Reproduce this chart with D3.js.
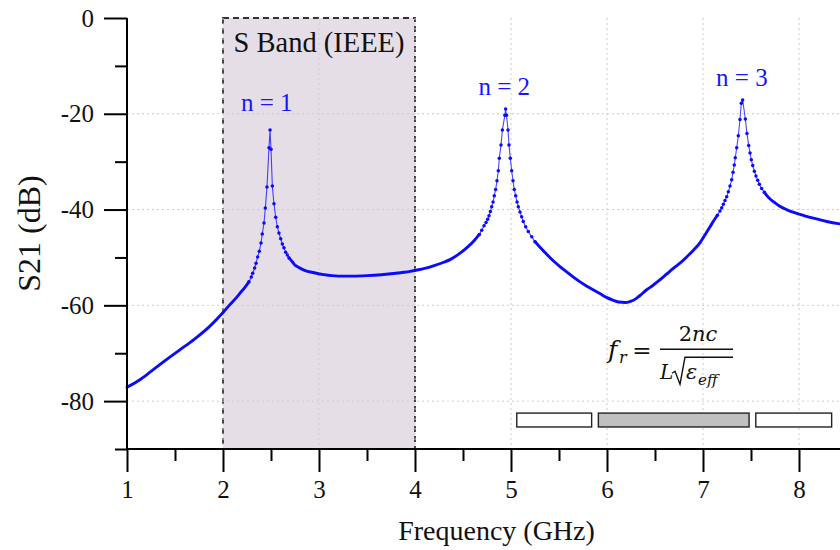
<!DOCTYPE html>
<html><head><meta charset="utf-8">
<script src="https://cdn.jsdelivr.net/npm/d3@7"></script>
<style>
body{margin:0;background:#fff}
svg{display:block;font-family:"Liberation Serif","Times New Roman",serif}
</style>
</head><body>
<svg id="chart" width="840" height="550"></svg>
<script>
// ---------- data ----------
const freq = [1.00,1.13,1.25,1.40,1.55,1.70,1.85,2.00,2.07,2.13,2.18,2.23,2.27,
 2.295,2.309,2.330,2.344,2.361,2.378,2.396,2.409,2.427,2.441,2.458,2.479,2.490,2.500,2.514,2.531,2.549,2.566,2.583,2.601,2.618,2.635,2.653,2.670,2.688,2.705,2.722,2.750,2.781,
 2.85,2.95,3.05,3.20,3.35,3.50,3.65,3.80,3.95,4.10,4.20,4.30,4.37,4.47,4.55,4.62,4.67,
 4.695,4.719,4.740,4.757,4.771,4.785,4.799,4.813,4.826,4.840,4.854,4.868,4.878,4.896,4.910,4.936,4.944,4.953,4.969,4.979,4.993,5.007,5.021,5.034,5.049,5.063,5.076,5.094,5.111,5.128,5.153,5.180,5.216,5.250,5.295,
 5.37,5.44,5.51,5.58,5.65,5.72,5.79,5.86,5.93,6.00,6.06,6.12,6.19,6.24,6.28,6.34,6.41,6.48,6.55,6.62,6.69,6.76,6.83,6.90,6.97,7.02,7.07,7.11,7.15,
 7.177,7.195,7.212,7.229,7.247,7.264,7.281,7.299,7.313,7.326,7.336,7.351,7.368,7.385,7.399,7.413,7.441,7.458,7.476,7.490,7.503,7.518,7.535,7.552,7.570,7.587,7.611,7.639,7.670,7.705,7.750,
 7.80,7.87,8.01,8.15,8.29,8.43,8.50];
const s21 = [-77.1,-75.6,-73.8,-71.5,-69.3,-67.1,-64.6,-61.5,-59.9,-58.6,-57.4,-56.2,-55.1,
 -54.1,-53.3,-52.2,-51.2,-49.9,-48.7,-47.0,-45.1,-42.8,-39.7,-35.3,-27.1,-23.4,-27.4,-35.1,-38.8,-41.6,-43.6,-44.9,-46.1,-47.2,-48.0,-48.9,-49.5,-50.1,-50.5,-50.9,-51.6,-52.0,
 -52.7,-53.2,-53.6,-53.9,-53.9,-53.8,-53.6,-53.3,-52.9,-52.3,-51.7,-51.0,-50.4,-49.1,-47.8,-46.4,-45.2,
 -44.3,-43.4,-42.7,-42.0,-41.3,-40.4,-39.4,-38.4,-37.1,-35.8,-34.0,-31.9,-29.3,-26.5,-23.4,-20.3,-19.0,-20.3,-23.4,-26.5,-29.3,-31.9,-34.0,-35.8,-37.1,-38.4,-39.4,-40.5,-41.5,-42.5,-43.6,-44.6,-45.7,-46.7,-47.7,
 -49.3,-50.7,-51.9,-53.0,-54.1,-55.1,-56.0,-56.8,-57.6,-58.4,-58.9,-59.3,-59.4,-59.2,-58.9,-58.0,-56.8,-55.8,-54.7,-53.5,-52.3,-51.2,-49.9,-48.5,-46.9,-45.3,-43.7,-42.4,-41.2,
 -40.3,-39.6,-38.9,-38.1,-37.3,-36.3,-35.1,-33.8,-32.2,-30.7,-29.2,-27.1,-24.6,-21.2,-17.8,-17.1,-21.1,-24.1,-26.6,-28.2,-29.6,-30.8,-32.0,-33.0,-33.9,-34.7,-35.6,-36.4,-37.2,-37.9,-38.6,
 -39.3,-40.0,-41.0,-41.8,-42.5,-43.0,-43.2];

const xTicks = [1,2,3,4,5,6,7,8];
const xMinorTicks = [1.5,2.5,3.5,4.5,5.5,6.5,7.5,8.5];
const yTicks = [0,-20,-40,-60,-80];
const yMinorTicks = [-10,-30,-50,-70,-90];
const yGrid = [-20,-40,-60,-80];
const xGrid = [2,3,4,5,6,7,8];

const xTitle = "Frequency (GHz)";
const yTitle = "S21 (dB)";

const bandName = "S Band (IEEE)";
const bandRange = [2, 4];

const peakLabels = ["n = 1", "n = 2", "n = 3"];
const peakLabelFreq = [2.455, 4.93, 7.405];
const peakLabelDb = [-19.5, -16.1, -14.2];

const barStarts = [5.06, 5.91, 7.55];
const barEnds   = [5.84, 7.48, 8.34];
const barFills  = ["#ffffff", "#c0c0c0", "#ffffff"];
const barDbRange = [-82.5, -85.4];

// ---------- scales ----------
const svg = d3.select("#chart");
const serif = "'Liberation Serif','Times New Roman',serif";
const x = d3.scaleLinear().domain([1, 8.5]).range([127, 847]);
const y = d3.scaleLinear().domain([-90, 0]).range([449, 18]);

// S band rectangle
svg.append("rect")
  .attr("x", x(bandRange[0])).attr("y", y(0))
  .attr("width", x(bandRange[1]) - x(bandRange[0]))
  .attr("height", y(-90) - y(0))
  .attr("fill", "#e6dee7")
  .attr("stroke", "#333").attr("stroke-width", 1.8)
  .attr("stroke-dasharray", "6,4");

// grid
const grid = svg.append("g").attr("stroke", "#cdcdcd").attr("stroke-width", 1).attr("stroke-dasharray", "2,3");
grid.selectAll("line.h").data(yGrid).join("line").attr("class","h")
  .attr("x1", x(1)).attr("x2", 840).attr("y1", d => y(d)).attr("y2", d => y(d));
grid.selectAll("line.v").data(xGrid).join("line").attr("class","v")
  .attr("x1", d => x(d)).attr("x2", d => x(d)).attr("y1", y(0)).attr("y2", y(-90));

svg.append("text").attr("x", x(3)).attr("y", y(0) + 34).attr("font-family", serif)
  .attr("text-anchor", "middle").attr("font-size", 28.5).attr("fill", "#111").text(bandName);

// ---------- curve ----------
const pts = freq.map((f, i) => [x(f), y(s21[i])]);
const steep = [];
for (let i = 0; i < pts.length - 1; i++) {
  const dx = pts[i+1][0] - pts[i][0], dy = pts[i+1][1] - pts[i][1];
  steep.push(Math.abs(dy / dx) > 1.3 && dx < 3.5);
}
const blue = "#0a0aff";
svg.append("path").attr("d", d3.line()(pts))
  .attr("fill", "none").attr("stroke", blue).attr("stroke-width", 1.1).attr("stroke-opacity", 0.75);
let runs = [], cur = [];
for (let i = 0; i < steep.length; i++) {
  if (!steep[i]) { if (cur.length === 0) cur.push(pts[i]); cur.push(pts[i+1]); }
  else if (cur.length) { runs.push(cur); cur = []; }
}
if (cur.length) runs.push(cur);
const thick = d3.line().curve(d3.curveMonotoneX);
svg.selectAll("path.run").data(runs).join("path").attr("class","run")
  .attr("d", thick).attr("fill", "none").attr("stroke", blue)
  .attr("stroke-width", 2.9).attr("stroke-linecap", "round").attr("stroke-linejoin","round");
const markIdx = pts.map((p, i) => i).filter(i => (i > 0 && steep[i-1]) || (i < steep.length && steep[i]));
svg.selectAll("circle.m").data(markIdx).join("circle").attr("class","m")
  .attr("cx", i => pts[i][0]).attr("cy", i => pts[i][1]).attr("r", 1.75).attr("fill", blue);

// peak labels
svg.selectAll("text.pk").data(peakLabels).join("text").attr("class","pk")
  .attr("x", (d,i) => x(peakLabelFreq[i])).attr("y", (d,i) => y(peakLabelDb[i]))
  .attr("font-family", serif)
  .attr("text-anchor", "middle").attr("font-size", 25).attr("fill", "#1515ff").text(d => d);

// ---------- resonator bars ----------
svg.selectAll("rect.bar").data(barStarts).join("rect").attr("class","bar")
  .attr("x", (d,i) => x(d)).attr("y", y(barDbRange[0]))
  .attr("width", (d,i) => x(barEnds[i]) - x(d))
  .attr("height", y(barDbRange[1]) - y(barDbRange[0]))
  .attr("fill", (d,i) => barFills[i]).attr("stroke", "#222").attr("stroke-width", 1.4);

// ---------- formula ----------
const fx = x(6.0), fy = y(-70);
const fm = svg.append("g").attr("font-family", "'DejaVu Serif', serif").attr("fill", "#111");
fm.append("text").attr("x", fx + 1).attr("y", fy + 5).attr("font-size", 25).attr("font-style", "italic").text("f");
fm.append("text").attr("x", fx + 12).attr("y", fy + 10).attr("font-size", 16).attr("font-style", "italic").text("r");
fm.append("text").attr("x", fx + 35).attr("y", fy + 5).attr("font-size", 23).attr("text-anchor", "middle").text("=");
const num = fm.append("text").attr("x", fx + 91).attr("y", fy - 12).attr("font-size", 21).attr("text-anchor", "middle");
num.append("tspan").text("2");
num.append("tspan").attr("font-style", "italic").text("nc");
fm.append("line").attr("x1", fx + 53).attr("x2", fx + 126).attr("y1", fy - 4).attr("y2", fy - 4)
  .attr("stroke", "#111").attr("stroke-width", 1.6);
fm.append("text").attr("x", fx + 53).attr("y", fy + 26).attr("font-size", 20).attr("font-style", "italic").text("L");
fm.append("path").attr("d", `M${fx+65},${fy+20} L${fx+68},${fy+18} L${fx+73},${fy+31} L${fx+78},${fy+4} L${fx+126},${fy+4}`)
  .attr("fill", "none").attr("stroke", "#111").attr("stroke-width", 1.4);
fm.append("text").attr("x", fx + 79).attr("y", fy + 26).attr("font-size", 21).attr("font-style", "italic").text("ε");
fm.append("text").attr("x", fx + 91).attr("y", fy + 32).attr("font-size", 15).attr("font-style", "italic").text("eff");

// ---------- axes ----------
const axisStyle = g => {
  g.attr("font-family", serif).attr("font-size", 25);
  g.select(".domain").remove();
  g.selectAll(".tick line").attr("stroke", "#000").attr("stroke-width", 2);
  g.selectAll(".tick text").attr("fill", "#111");
};
const fmtTick = d => String(d);
svg.append("g").attr("transform", `translate(0,${y(-90)})`)
  .call(d3.axisBottom(x).tickValues(xTicks).tickSize(23).tickPadding(8).tickFormat(fmtTick))
  .call(axisStyle);
svg.append("g").attr("transform", `translate(0,${y(-90)})`)
  .call(d3.axisBottom(x).tickValues(xMinorTicks).tickSize(12).tickFormat(""))
  .call(axisStyle);
svg.append("g").attr("transform", `translate(${x(1)},0)`)
  .call(d3.axisLeft(y).tickValues(yTicks).tickSize(23).tickPadding(10).tickFormat(fmtTick))
  .call(axisStyle);
svg.append("g").attr("transform", `translate(${x(1)},0)`)
  .call(d3.axisLeft(y).tickValues(yMinorTicks).tickSize(12).tickFormat(""))
  .call(axisStyle);
svg.append("line").attr("x1", x(1)).attr("x2", x(1)).attr("y1", y(0)).attr("y2", y(-90))
  .attr("stroke", "#000").attr("stroke-width", 2);
svg.append("line").attr("x1", x(1)).attr("x2", 840).attr("y1", y(-90)).attr("y2", y(-90))
  .attr("stroke", "#000").attr("stroke-width", 2);

// titles
svg.append("text").attr("x", (x(1) + 840) / 2 + 13).attr("y", 540).attr("font-family", serif)
  .attr("text-anchor", "middle").attr("font-size", 28).attr("fill", "#111").text(xTitle);
svg.append("text").attr("transform", `translate(40,${(y(0) + y(-90)) / 2})rotate(-90)`).attr("font-family", serif)
  .attr("text-anchor", "middle").attr("font-size", 32).attr("fill", "#111").text(yTitle);
</script>
</body></html>
